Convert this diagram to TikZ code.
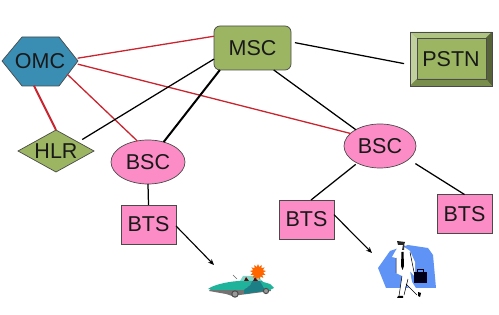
\documentclass[tikz,border=0pt]{standalone}
\usepackage{fontspec}
\setmainfont{Liberation Sans}
\usetikzlibrary{shapes.geometric,arrows.meta}
\definecolor{netgreen}{HTML}{9BB562}
\definecolor{netpink}{HTML}{FB8CC6}
\definecolor{netblue}{HTML}{3A8DB3}
\definecolor{netred}{HTML}{C9252F}
\definecolor{edgegrey}{HTML}{4A4A4A}
\definecolor{cartop}{HTML}{1FB39B}
\definecolor{carside}{HTML}{1C7F86}
\definecolor{backdrop}{HTML}{5F93F5}
\tikzset{
  x=1pt,y=-1pt,
  every node/.style={font=\fontsize{21.5}{25}\selectfont,text=black!90,inner sep=0pt,outer sep=0pt},
  shapeline/.style={draw=edgegrey,line width=0.7pt},
  omcshape/.style={ellipse,minimum width=76pt,minimum height=49pt},
  mscshape/.style={shapeline,fill=netgreen,rounded corners=6pt,minimum width=77pt,minimum height=44pt},
  hlrshape/.style={shapeline,fill=netgreen,diamond,aspect=1.8,minimum width=76pt,minimum height=42pt},
  bscshape/.style={shapeline,fill=netpink,ellipse,minimum width=74pt,minimum height=44pt},
  btsshape/.style={shapeline,fill=netpink,minimum width=55pt,minimum height=39pt},
  pstnshape/.style={shapeline,fill=netgreen,minimum width=82pt,minimum height=54pt,
    path picture={
      \coordinate (nw) at (path picture bounding box.north west);
      \coordinate (ne) at (path picture bounding box.north east);
      \coordinate (sw) at (path picture bounding box.south west);
      \coordinate (se) at (path picture bounding box.south east);
      \coordinate (inw) at ([shift={(7pt,-6pt)}]nw);
      \coordinate (ine) at ([shift={(-6pt,-6pt)}]ne);
      \coordinate (isw) at ([shift={(7pt,7pt)}]sw);
      \coordinate (ise) at ([shift={(-6pt,7pt)}]se);
      \fill[netgreen!62!white] (nw) -- (inw) -- (isw) -- (sw) -- cycle;
      \fill[netgreen!80!white] (nw) -- (ne) -- (ine) -- (inw) -- cycle;
      \fill[netgreen!55!black] (ne) -- (se) -- (ise) -- (ine) -- cycle;
      \fill[netgreen!78!black] (sw) -- (se) -- (ise) -- (isw) -- cycle;
      \draw[black!70,line width=0.7pt] (inw) rectangle (ise);
    }},
  redlink/.style={netred,line width=1.3pt},
  redheavy/.style={netred,line width=2pt},
  blacklink/.style={black,line width=1.25pt},
  blackheavy/.style={black,line width=2pt},
  radiolink/.style={black,line width=1.1pt,-{Stealth[length=6pt,width=5pt]}},
}
\begin{document}
\begin{tikzpicture}
\useasboundingbox (0,0) rectangle (499,315);

% hexagon outline of the OMC
\filldraw[shapeline,fill=netblue] (2,61) -- (22,37) -- (59,37) -- (78,61) -- (59,86) -- (22,86) -- cycle;

% network elements
\node[omcshape] (omc) at (40,61.5) {OMC};
\node[mscshape] (msc) at (252.5,48) {MSC};
\node[pstnshape] (pstn) at (451,59) {PSTN};
\node[hlrshape] (hlr) at (56,151) {HLR};
\node[bscshape] (bsca) at (148,162) {BSC};
\node[bscshape,minimum width=72pt] (bscb) at (380,146) {BSC};
\node[btsshape] (btsa) at (148.5,224.5) {BTS};
\node[btsshape] (btsb) at (306.5,219.5) {BTS};
\node[btsshape] (btsc) at (464.5,214) {BTS};

% free ends of the radio links
\coordinate (carpoint) at (214,265);
\coordinate (walkerpoint) at (372,253);

% management links
\draw[redlink] (omc.5) -- (msc.163);
\draw[redlink] (omc.356) -- (bscb.157);
\draw[redlink,shorten <=-3.5pt] (omc.333) -- (bsca.117);
\draw[redheavy] (omc.256) -- (hlr.north);

% signalling and trunk links
\draw[blacklink,shorten <=5pt] (hlr.22) -- (msc.196);
\draw[blackheavy] (msc.214) -- (bsca.52);
\draw[blacklink,shorten <=4pt,shorten >=6pt] (msc.9) -- (pstn.188);
\draw[blacklink] (msc.314) -- (bscb.146);
\draw[blacklink,shorten <=2pt] (bscb.217) -- (btsb.77);
\draw[blacklink,shorten <=8pt] (bscb.335) -- (btsc.north);
\draw[blacklink] (bsca.south) -- (btsa.north);

% radio links
\draw[radiolink] (btsa.357) -- (carpoint);
\draw[radiolink] (btsb.10) -- (walkerpoint);

% car
\fill[black!55] (209,291) -- (226,294) -- (232,296) -- (271,291) -- (270,288) -- (212,288) -- cycle;
\fill[cartop!55!white] (240,281) -- (243,276) -- (258,276) -- (263,282) -- cycle;
\fill[black!65!red] (244,281) -- (246,277) -- (249,281) -- cycle (253,281) -- (255,277) -- (258,281) -- cycle;
\fill[cartop] (208,289) .. controls (213,285) and (226,282) .. (238,281) -- (252,281) -- (250,285) -- (244,290) -- (214,290) -- cycle;
\fill[carside] (244,290) -- (250,285) -- (252,281) -- (262,281) -- (266,288) -- (264,291) -- (244,294) -- cycle;
\fill[cartop] (260,281) -- (270,284) -- (274,288) -- (270,290) -- (265,290) -- cycle;
\draw[black!60,line width=0.5pt] (233,275) -- (237,279);
\filldraw[fill=black!40,draw=black!70,line width=1pt] (235,294) circle (3.2pt);
\filldraw[fill=black!40,draw=black!70,line width=1pt] (266,291) circle (2.6pt);
\node[star,star points=13,star point ratio=1.55,fill=orange!80!red,minimum size=16pt] (burst) at (258,272) {};

% walking figure and its backdrop
\fill[backdrop] (378,268) -- (390,251) -- (408,245) -- (428,248) -- (433,255) -- (436,288) -- (386,288) -- cycle;
\fill[white] (398,247) -- (404,247) -- (410,251) -- (415,262) -- (415,277) -- (410,271) -- (412,282) -- (417,290) -- (420,296) -- (417,295) -- (406,285) -- (403,295) -- (399,296) -- (402,276) -- (396,273) -- (396,258) -- (392,257) -- (396,250) -- cycle;
\draw[black,line width=0.5pt] (396,258) -- (396,273) (410,252) -- (415,277) (402,276) -- (399,296) (408,279) -- (404,295) (406,284) -- (417,295);
\fill[black] (401.5,252) -- (403.5,252) -- (404,266) -- (402.5,270) -- (401,266) -- cycle;
\fill[black!85] (397,241) -- (405,242) -- (404,245) -- (398,245) -- cycle;
\fill[black!80] (403,245) -- (404.5,245) -- (404,250) -- (402,250) -- cycle;
\fill[black] (398,296) -- (403,296) -- (403,298) -- (397,298) -- cycle (418,292) -- (421,293) -- (420,297) -- (418,296) -- cycle;
\draw[black,line width=0.6pt] (417,272) -- (417,269) -- (423,269) -- (423,272);
\fill[black!90!blue] (414,272) -- (427,272) -- (427,283) -- (414,283) -- cycle;
\end{tikzpicture}
\end{document}
